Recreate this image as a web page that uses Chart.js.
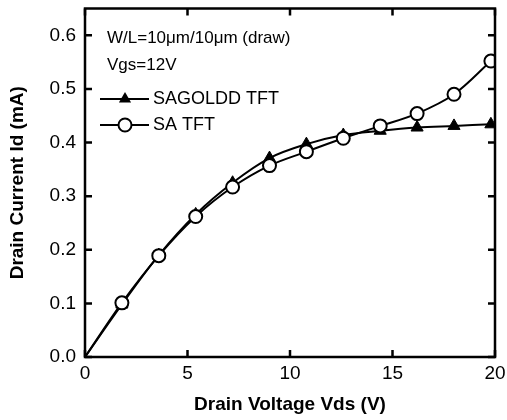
<!DOCTYPE html>
<html>
<head>
<meta charset="utf-8">
<script src="https://cdn.jsdelivr.net/npm/chart.js@4.4.0/dist/chart.umd.min.js"></script>
<style>
  html, body { margin: 0; padding: 0; background: #fff; }
  #wrap { width: 507px; height: 420px; }
</style>
</head>
<body>
<div id="wrap"><canvas id="chart" width="507" height="420"></canvas></div>
<script>
// drain voltage (V) where the points were measured
var vds = [0, 1.8, 3.6, 5.4, 7.2, 9.0, 10.8, 12.6, 14.4, 16.2, 18.0, 19.8];
// drain current (mA)
var sagolddId = [0, 0.098, 0.190, 0.266, 0.325, 0.371, 0.397, 0.414, 0.422, 0.428, 0.431, 0.434];
var saId = [0, 0.101, 0.189, 0.262, 0.317, 0.357, 0.383, 0.408, 0.431, 0.454, 0.490, 0.552];

var xTicks = [0, 5, 10, 15, 20];
var yTicks = [0, 0.1, 0.2, 0.3, 0.4, 0.5, 0.6];
var seriesNames = ['SAGOLDD TFT', 'SA TFT'];
var noteLines = ['W/L=10\u03bcm/10\u03bcm (draw)', 'Vgs=12V'];

function toPoints(ys) {
    return vds.map(function (v, i) { return {x: v, y: ys[i]}; });
}
function radiusList(r) {
    // no marker at the origin
    return vds.map(function (v) { return v === 0 ? 0 : r; });
}

var FONT = "'Liberation Sans', Arial, sans-serif";

// inward ticks on all four sides + thick frame
var frameTicks = {
    id: 'frameTicks',
    afterDatasetsDraw: function (chart) {
        var ctx = chart.ctx, a = chart.chartArea;
        var xs = chart.scales.x, ys = chart.scales.y;
        var len = 7;
        ctx.save();
        ctx.strokeStyle = '#000';
        ctx.lineWidth = 2.5;
        ctx.strokeRect(a.left, a.top, a.right - a.left, a.bottom - a.top);
        ctx.beginPath();
        xTicks.forEach(function (t) {
            var px = xs.getPixelForValue(t);
            ctx.moveTo(px, a.bottom); ctx.lineTo(px, a.bottom - len);
            ctx.moveTo(px, a.top); ctx.lineTo(px, a.top + len);
        });
        yTicks.forEach(function (t) {
            var py = ys.getPixelForValue(t);
            ctx.moveTo(a.left, py); ctx.lineTo(a.left + len, py);
            ctx.moveTo(a.right, py); ctx.lineTo(a.right - len, py);
        });
        ctx.stroke();
        ctx.restore();
    }
};

// text notes and legend in the upper left corner
var notes = {
    id: 'notes',
    afterDraw: function (chart) {
        var ctx = chart.ctx;
        ctx.save();
        ctx.fillStyle = '#000';
        ctx.textBaseline = 'middle';
        ctx.font = '17px ' + FONT;
        ctx.fillText(noteLines[0], 107, 38);
        ctx.fillText(noteLines[1], 107, 65);

        var rows = [99, 125];
        rows.forEach(function (y, i) {
            ctx.strokeStyle = '#000';
            ctx.lineWidth = 2;
            ctx.beginPath();
            ctx.moveTo(100, y); ctx.lineTo(149, y);
            ctx.stroke();
            var ds = chart.data.datasets[i];
            ctx.beginPath();
            if (ds.pointStyle === 'triangle') {
                var r = 7;
                ctx.moveTo(125, y - r);
                ctx.lineTo(125 + r * 0.87, y + r * 0.5);
                ctx.lineTo(125 - r * 0.87, y + r * 0.5);
                ctx.closePath();
                ctx.fillStyle = '#000';
                ctx.fill();
            } else {
                ctx.arc(125, y, 6.5, 0, Math.PI * 2);
                ctx.fillStyle = '#fff';
                ctx.fill();
                ctx.lineWidth = 2;
                ctx.stroke();
            }
            ctx.fillStyle = '#000';
            ctx.font = '18px ' + FONT;
            ctx.fillText(seriesNames[i], 153, y);
        });
        ctx.restore();
    }
};

var data = {
    datasets: [{
        label: seriesNames[0],
        data: toPoints(sagolddId),
        borderColor: '#000',
        borderWidth: 2,
        pointStyle: 'triangle',
        pointRadius: radiusList(7),
        pointBackgroundColor: '#000',
        pointBorderColor: '#000',
        pointBorderWidth: 1,
        tension: 0.35,
        order: 2
    }, {
        label: seriesNames[1],
        data: toPoints(saId),
        borderColor: '#000',
        borderWidth: 2,
        pointStyle: 'circle',
        pointRadius: radiusList(6.5),
        pointBackgroundColor: '#fff',
        pointBorderColor: '#000',
        pointBorderWidth: 2,
        tension: 0.35,
        order: 1
    }]
};

var config = {
    type: 'line',
    data: data,
    options: {
        responsive: false,
        animation: false,
        layout: {
            padding: {top: 8, right: 12, bottom: 0, left: 0}
        },
        plugins: {
            legend: {display: false},
            tooltip: {enabled: false}
        },
        scales: {
            x: {
                type: 'linear',
                min: 0,
                max: 20,
                afterBuildTicks: function (s) { s.ticks = xTicks.map(function (v) { return {value: v}; }); },
                afterFit: function (s) { s.height = 63; s.paddingLeft = 0; s.paddingRight = 0; },
                grid: {display: false, drawTicks: false},
                border: {display: false},
                ticks: {
                    color: '#000',
                    padding: 5,
                    maxRotation: 0,
                    font: {family: FONT, size: 19}
                },
                title: {
                    display: true,
                    text: 'Drain Voltage Vds (V)',
                    color: '#000',
                    font: {family: FONT, size: 19, weight: 'bold'},
                    padding: {top: 0, bottom: 4}
                }
            },
            y: {
                min: 0,
                max: 0.65,
                afterBuildTicks: function (s) { s.ticks = yTicks.map(function (v) { return {value: v}; }); },
                afterFit: function (s) { s.width = 85; s.paddingTop = 0; s.paddingBottom = 0; },
                grid: {display: false, drawTicks: false},
                border: {display: false},
                ticks: {
                    color: '#000',
                    padding: 9,
                    font: {family: FONT, size: 19},
                    callback: function (v) { return v.toFixed(1); }
                },
                title: {
                    display: true,
                    text: 'Drain Current Id (mA)',
                    color: '#000',
                    font: {family: FONT, size: 19, weight: 'bold'},
                    padding: {top: 6, bottom: 0}
                }
            }
        }
    },
    plugins: [frameTicks, notes]
};

var myChart = new Chart(document.getElementById('chart'), config);
</script>
</body>
</html>
